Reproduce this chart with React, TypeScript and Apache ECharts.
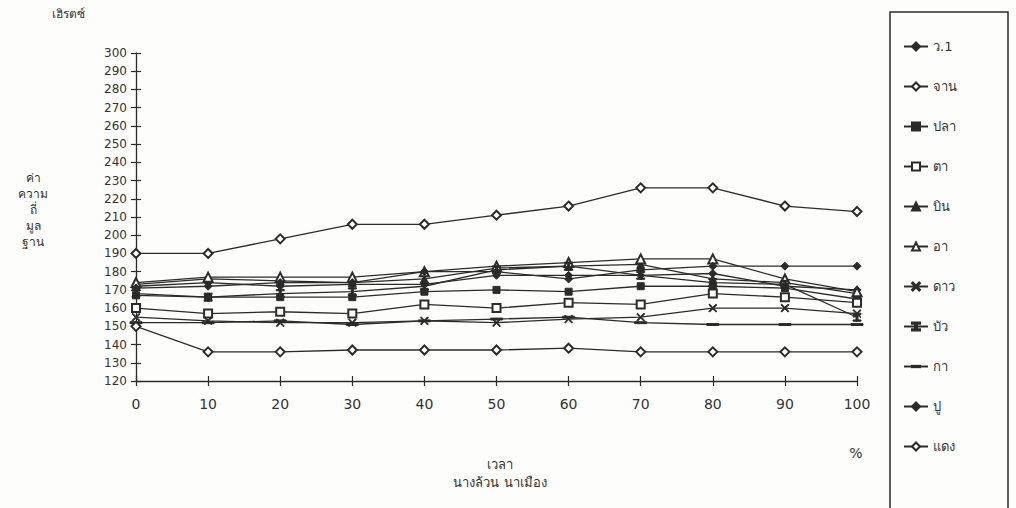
import React, { useEffect, useRef } from "react";
import * as echarts from "echarts";

const xValues = [0, 10, 20, 30, 40, 50, 60, 70, 80, 90, 100];
const seriesNames = ["ว.1", "จาน", "ปลา", "ตา", "บิน", "อา", "ดาว", "บัว", "กา", "ปู", "แดง"];

const v1 = [172, 174, 172, 173, 173, 178, 178, 178, 179, 172, 170];
const jaan = [190, 190, 198, 206, 206, 211, 216, 226, 226, 216, 213];
const plaa = [167, 166, 166, 166, 169, 170, 169, 172, 172, 171, 165];
const taa = [160, 157, 158, 157, 162, 160, 163, 162, 168, 166, 163];
const bin = [173, 176, 175, 174, 176, 182, 183, 184, 176, 174, 168];
const aa = [174, 177, 177, 177, 180, 183, 185, 187, 187, 176, 169];
const daao = [155, 153, 152, 152, 153, 152, 154, 155, 160, 160, 157];
const bua = [168, 166, 168, 169, 172, 181, 183, 178, 174, 173, 155];
const kaa = [152, 152, 153, 151, 153, 154, 155, 152, 151, 151, 151];
const puu = [171, 172, 174, 174, 180, 180, 176, 181, 183, 183, 183];
const daeng = [150, 136, 136, 137, 137, 137, 138, 136, 136, 136, 136];

const seriesValues = [v1, jaan, plaa, taa, bin, aa, daao, bua, kaa, puu, daeng];

const SYM_X = "path://M0,1 L1,0 L5,4 L9,0 L10,1 L6,5 L10,9 L9,10 L5,6 L1,10 L0,9 L4,5 Z";
const SYM_I = "path://M4,0H6V10H4Z M1,0H9V1.6H1Z M1,8.4H9V10H1Z";
const SYM_DASH = "path://M0,0 M10,10 M0,4.2H10V5.8H0Z";

const symbols: any[] = [
  ["diamond", 8],
  ["emptyDiamond", 9],
  ["rect", 7],
  ["emptyRect", 8],
  ["triangle", 8],
  ["emptyTriangle", 9],
  [SYM_X, 8],
  [SYM_I, 8],
  [SYM_DASH, 12],
  ["diamond", 8],
  ["emptyDiamond", 9],
];

const yTicks = { min: 120, max: 300, interval: 10 };
const xTicks = { min: 0, max: 100, interval: 10 };

const INK = "#2b2b2b";
const FONT = "'DejaVu Sans', 'Noto Sans', sans-serif";

export default function App() {
  const ref = useRef<HTMLDivElement>(null);
  useEffect(() => {
    if (!ref.current) return;
    const chart = echarts.init(ref.current, undefined, { renderer: "svg" });
    const series = seriesNames.map((name, i) => ({
      name,
      type: "line",
      xAxisIndex: 0,
      yAxisIndex: 0,
      data: xValues.map((x, j) => [x, seriesValues[i][j]]),
      symbol: symbols[i][0],
      symbolSize: symbols[i][1],
      showAllSymbol: true,
      lineStyle: { color: INK, width: 1.3 },
      itemStyle: { color: INK, borderColor: INK, borderWidth: 1 },
      emphasis: { disabled: true },
    }));
    chart.setOption({
      animation: false,
      backgroundColor: "#fdfdfb",
      textStyle: { fontFamily: FONT },
      grid: { left: 136, right: 159, top: 53, bottom: 127 },
      xAxis: [
        {
          type: "value",
          ...xTicks,
          axisLine: { show: true, lineStyle: { color: INK, width: 1.3 } },
          axisTick: { show: true, length: 5, lineStyle: { color: INK, width: 1.2 } },
          axisLabel: { color: "#333", fontSize: 14, margin: 16, fontFamily: FONT },
          splitLine: { show: false },
        },
        {
          type: "value",
          position: "bottom",
          ...xTicks,
          axisLine: { show: false },
          axisTick: { show: true, inside: true, length: 5, lineStyle: { color: INK, width: 1.2 } },
          axisLabel: { show: false },
          splitLine: { show: false },
        },
      ],
      yAxis: [
        {
          type: "value",
          ...yTicks,
          axisLine: { show: true, lineStyle: { color: INK, width: 1.3 } },
          axisTick: { show: true, length: 5, lineStyle: { color: INK, width: 1.2 } },
          axisLabel: { color: "#333", fontSize: 12, margin: 9, fontFamily: FONT },
          splitLine: { show: false },
        },
        {
          type: "value",
          position: "left",
          ...yTicks,
          axisLine: { show: false },
          axisTick: { show: true, inside: true, length: 5, lineStyle: { color: INK, width: 1.2 } },
          axisLabel: { show: false },
          splitLine: { show: false },
        },
      ],
      legend: {
        orient: "vertical",
        left: 898,
        top: 35,
        itemGap: 27,
        itemWidth: 24,
        itemHeight: 10,
        data: seriesNames,
        textStyle: { color: "#333", fontSize: 13, fontFamily: FONT },
        selectedMode: false,
      },
      graphic: [
        {
          type: "rect",
          shape: { x: 890, y: 12, width: 118, height: 520 },
          style: { fill: "none", stroke: INK, lineWidth: 1.5 },
          silent: true,
        },
        {
          type: "text",
          left: 52,
          top: 8,
          style: { text: "เฮิรตซ์", fill: "#333", fontSize: 12, fontFamily: FONT },
        },
        {
          type: "text",
          x: 33,
          y: 170,
          style: {
            text: "ค่า\nความ\nถี่\nมูล\nฐาน",
            fill: "#333",
            fontSize: 12,
            lineHeight: 16,
            align: "center",
            fontFamily: FONT,
          },
        },
        {
          type: "text",
          x: 500,
          y: 458,
          style: { text: "เวลา", fill: "#333", fontSize: 13, align: "center", fontFamily: FONT },
        },
        {
          type: "text",
          x: 500,
          y: 476,
          style: { text: "นางล้วน นาเมือง", fill: "#333", fontSize: 13, align: "center", fontFamily: FONT },
        },
        {
          type: "text",
          x: 856,
          y: 446,
          style: { text: "%", fill: "#333", fontSize: 14, align: "center", fontFamily: FONT },
        },
      ],
      series,
    });
    return () => chart.dispose();
  }, []);
  return <div ref={ref} style={{ width: 1016, height: 508, position: "absolute", left: 0, top: 0 }} />;
}
